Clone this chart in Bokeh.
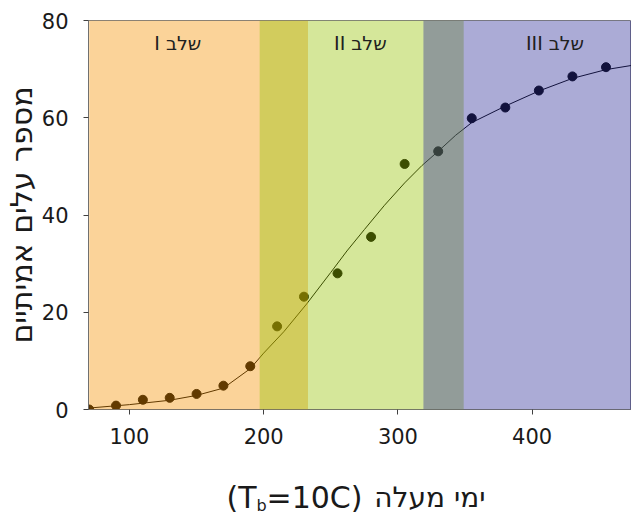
from bokeh.plotting import figure
from bokeh.layouts import column
from bokeh.models import BoxAnnotation, Label, FixedTicker, Range1d
from bokeh.embed import file_html
from bokeh.resources import INLINE

# measured points: degree-days (Tb=10C) vs number of true leaves
days = [70, 90, 110, 130, 150, 170, 190, 210, 230, 255, 280, 305, 330, 355, 380, 405, 430, 455]
leaves = [0.0, 0.8, 2.0, 2.4, 3.2, 4.9, 8.9, 17.1, 23.2, 28.0, 35.5, 50.5, 53.1, 59.9, 62.1, 65.6, 68.5, 70.4]

# fitted curve
fit_days = [70, 100, 130, 150, 170, 190, 200, 215, 232, 250, 262, 275, 290, 305, 318, 330, 343, 355, 380, 405, 430, 455, 475]
fit_leaves = [0.3, 1.0, 1.9, 2.9, 4.4, 8.4, 11.6, 16.0, 21.7, 28.2, 32.6, 37.0, 42.0, 46.6, 50.2, 53.1, 56.4, 59.0, 62.4, 65.5, 68.1, 69.9, 70.8]

# growth stages (translucent bands that overlap)
stage_names = ["\u202bשלב I\u202c", "\u202bשלב II\u202c", "\u202bשלב III\u202c"]
stage_start = [70, 197, 319]
stage_end = [233, 349, 475]
stage_colors = ["#f59100", "#96c303", "#2d2d98"]
stage_label_x = [136, 272, 417]

x_ticks = [100, 200, 300, 400]
y_ticks = [0, 20, 40, 60, 80]

y_title = "מספר עלים אמיתיים"
x_title_he = "ימי מעלה"
x_title_pre = "(T"
x_title_sub = "b"
x_title_post = "=10C)"

FONT = "DejaVu Sans"
TXT = "#1a1a1a"
LEFT = 88

x_range = Range1d(69.5, 474)

p = figure(width=631, height=457, x_range=x_range, y_range=Range1d(0, 80),
           output_backend="svg", toolbar_location=None,
           min_border_left=LEFT, min_border_right=0, min_border_top=20, min_border_bottom=48)
p.background_fill_color = "white"
p.border_fill_color = "white"
p.outline_line_color = "#808080"
p.grid.visible = False

p.line(fit_days, fit_leaves, line_color="black", line_width=1)
p.scatter(days, leaves, size=9, fill_color="black", line_color="black")

for s, e, c in zip(stage_start, stage_end, stage_colors):
    p.add_layout(BoxAnnotation(left=s, right=e, fill_color=c, fill_alpha=0.4, line_alpha=0))

for name, lx in zip(stage_names, stage_label_x):
    p.add_layout(Label(x=lx, y=75.3, text=name, text_font=FONT,
                       text_font_size="19px", text_color="#202020",
                       text_align="center", text_baseline="middle"))

p.xaxis.ticker = FixedTicker(ticks=x_ticks)
p.yaxis.ticker = FixedTicker(ticks=y_ticks)
for ax in (p.xaxis[0], p.yaxis[0]):
    ax.major_label_text_font = FONT
    ax.major_label_text_font_size = "21px"
    ax.major_label_text_color = TXT
    ax.axis_line_color = "#707070"
    ax.major_tick_line_color = "#404040"
    ax.major_tick_out = 5
    ax.major_tick_in = 0
    ax.minor_tick_out = 0
    ax.minor_tick_in = 0
p.xaxis.major_label_standoff = 13
p.yaxis.major_label_standoff = 15

p.yaxis.axis_label = y_title
p.yaxis.axis_label_text_font = FONT
p.yaxis.axis_label_text_font_size = "30px"
p.yaxis.axis_label_text_font_style = "normal"
p.yaxis.axis_label_text_color = TXT
p.yaxis.axis_label_standoff = 0

# x-axis title with a subscript, drawn in a strip below the chart
q = figure(width=631, height=60, x_range=x_range, y_range=Range1d(0, 60),
           x_axis_type=None, y_axis_type=None, output_backend="svg", toolbar_location=None,
           min_border_left=LEFT, min_border_right=0, min_border_top=0, min_border_bottom=0,
           outline_line_color=None)
q.background_fill_color = "white"
q.border_fill_color = "white"
common = dict(x_units="screen", text_font=FONT, text_color=TXT, text_baseline="alphabetic")
q.add_layout(Label(x=168, y=20, text=x_title_pre, text_font_size="30px", text_align="right", **common))
q.add_layout(Label(x=168, y=12, text=x_title_sub, text_font_size="16px", text_align="left", **common))
q.add_layout(Label(x=178, y=20, text=x_title_post, text_font_size="30px", text_align="left", **common))
q.add_layout(Label(x=397, y=20, text=x_title_he, text_font_size="28px", text_align="right", **common))

open("out.html", "w").write(file_html(column(p, q, spacing=0), INLINE))
